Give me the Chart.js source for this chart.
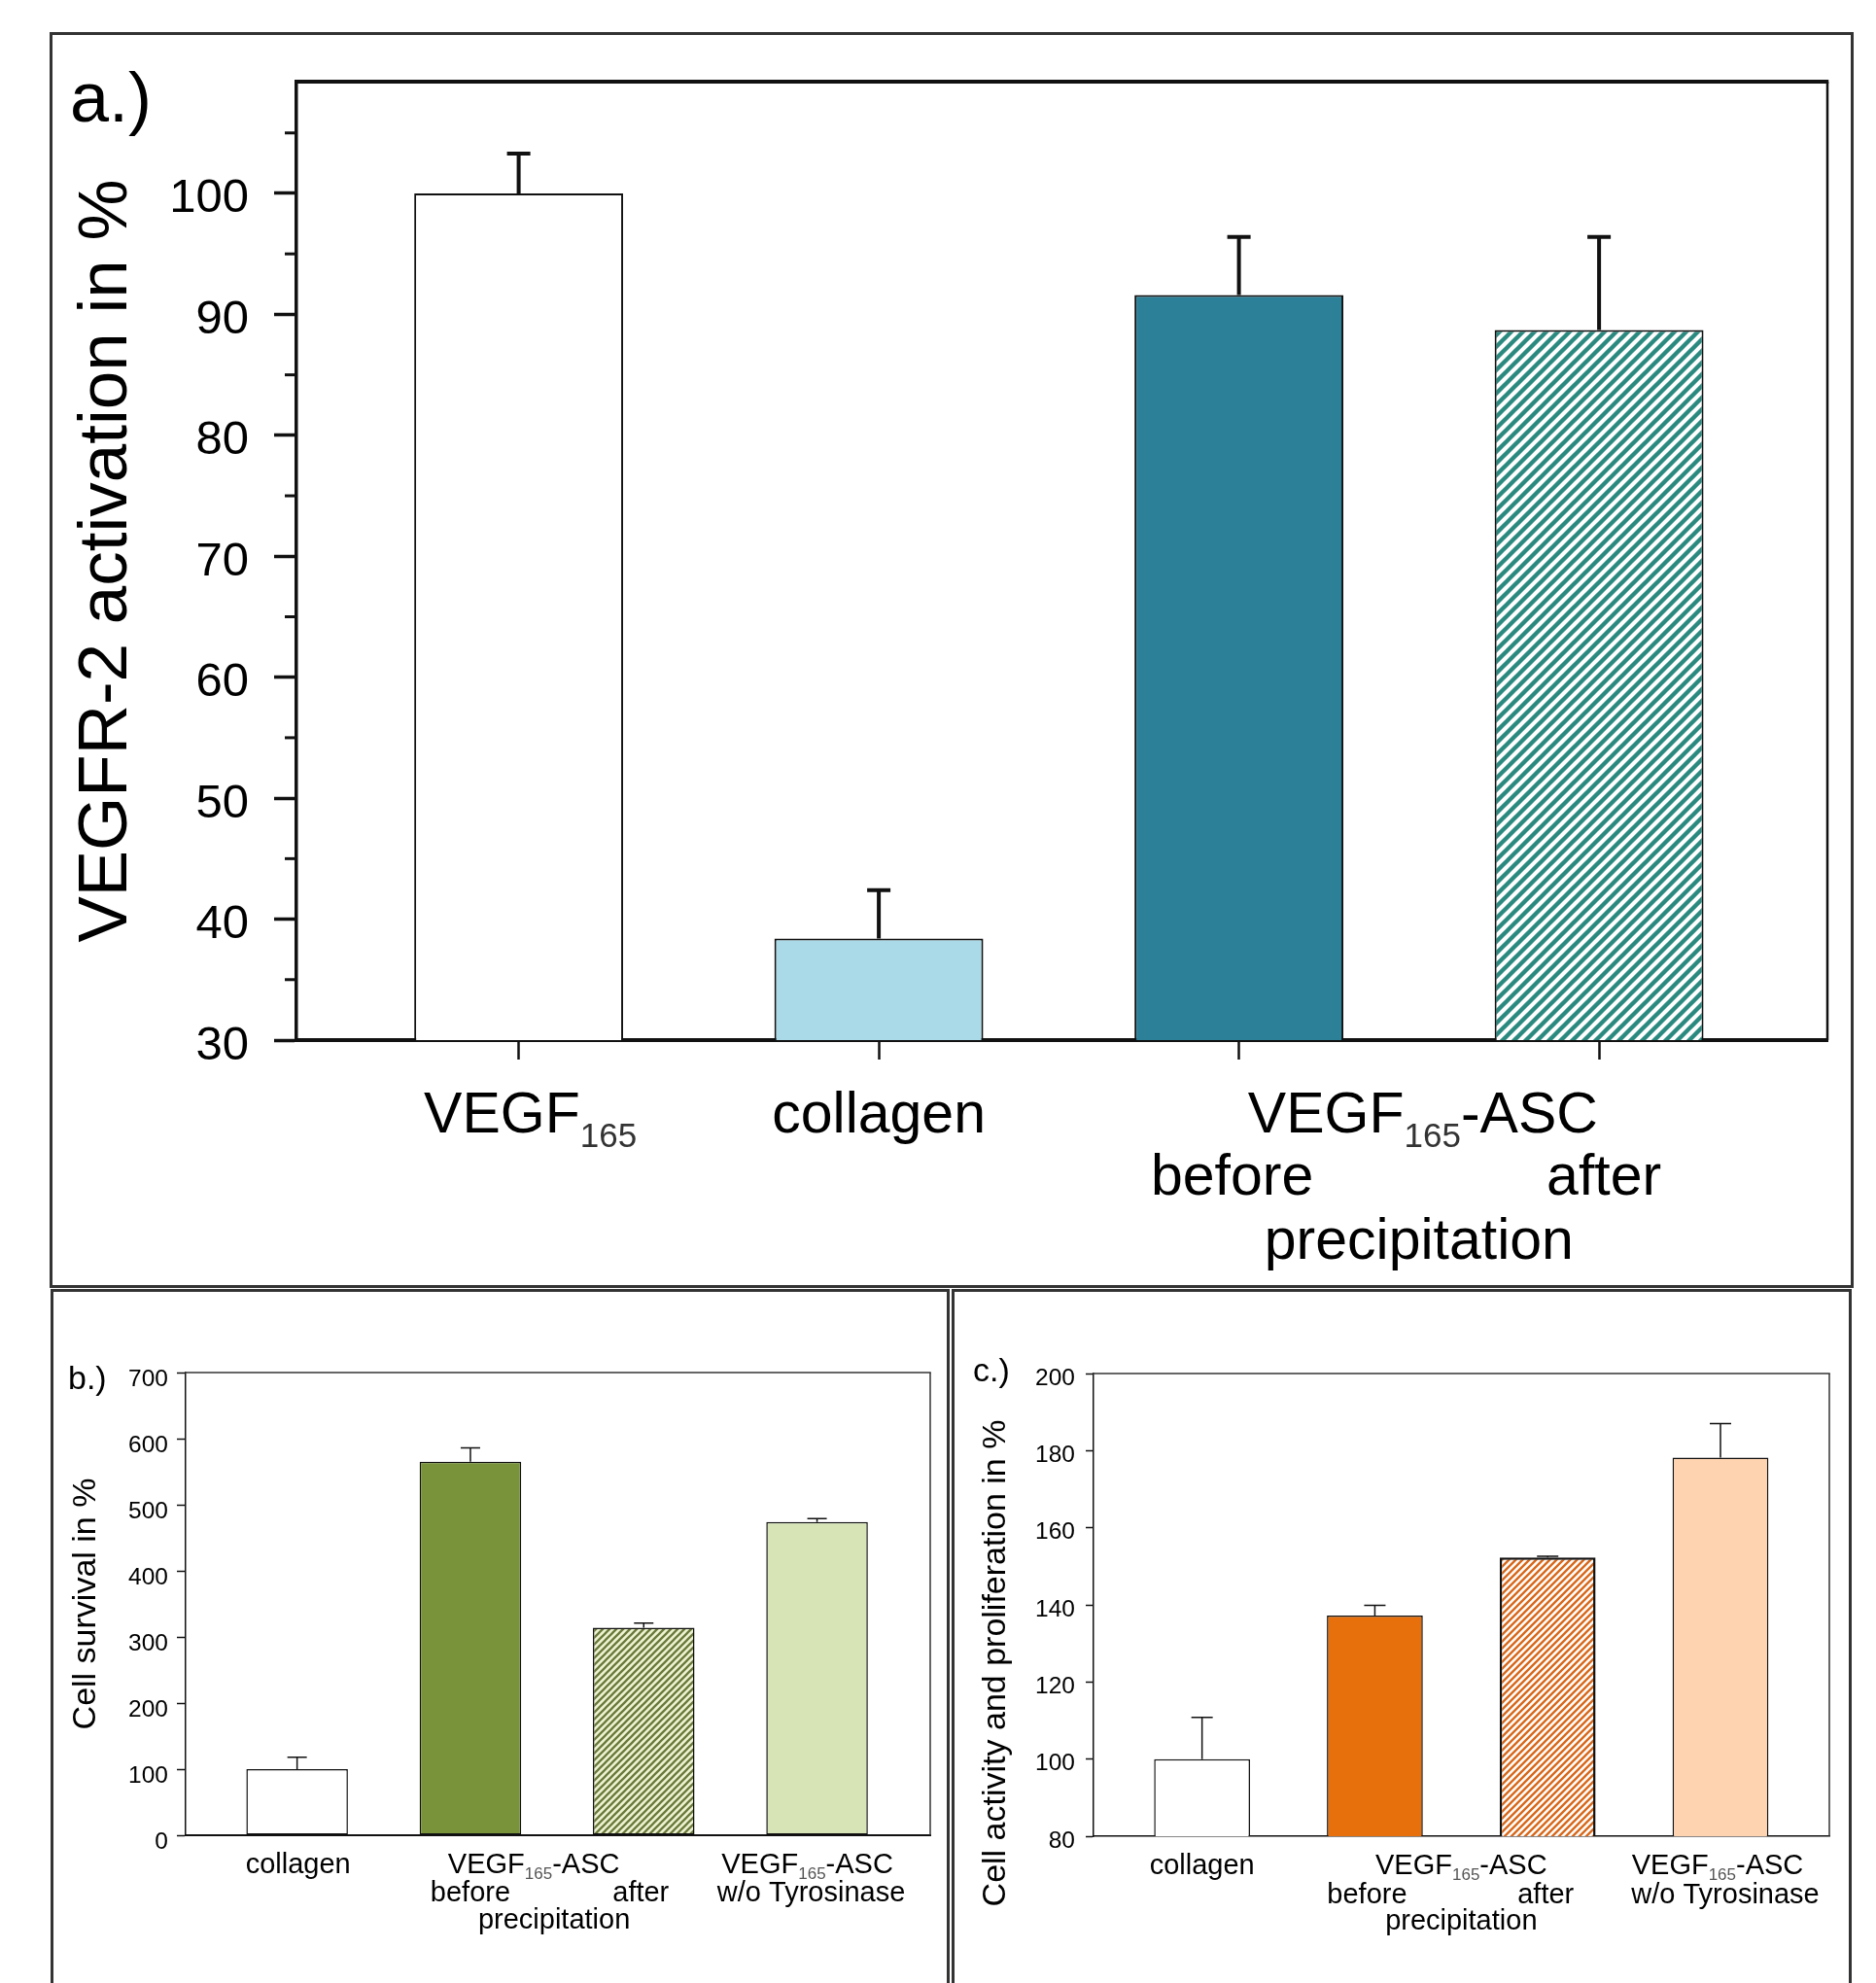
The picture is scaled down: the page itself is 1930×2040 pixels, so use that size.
<!DOCTYPE html>
<html>
<head>
<meta charset="utf-8">
<script src="https://cdn.jsdelivr.net/npm/chart.js@4.4.1/dist/chart.umd.min.js"></script>
<style>
html,body{margin:0;padding:0;background:#fff;width:1930px;height:2040px;overflow:hidden;}
.panel{position:absolute;box-sizing:border-box;border:3px solid #333;}
canvas{position:absolute;left:0;top:0;}
</style>
</head>
<body>
<div class="panel" style="left:51px;top:33px;width:1856px;height:1292px;"></div>
<div class="panel" style="left:52px;top:1326px;width:925px;height:780px;"></div>
<div class="panel" style="left:979px;top:1326px;width:926px;height:780px;"></div>
<canvas id="ca" width="1930" height="2040"></canvas>
<canvas id="cb" width="1930" height="2040"></canvas>
<canvas id="cc" width="1930" height="2040"></canvas>
<script>
// ---------------- DATA ----------------
// Panel a
const A_X = [1, 2, 3, 4];
const A_CATEGORIES = ['VEGF165', 'collagen', 'VEGF165-ASC before precipitation', 'VEGF165-ASC after precipitation'];
const A_VALUES = [100, 38.4, 91.6, 88.7];
const A_ERRORS = [3.3, 4.0, 4.8, 7.7];
const A_Y_TICKS = [30, 40, 50, 60, 70, 80, 90, 100];
const A_Y_MINOR = [35, 45, 55, 65, 75, 85, 95, 105];
const A_Y_TITLE = 'VEGFR-2 activation in %';
const A_TICK_TEXT = [
  [['VEGF', 0], ['165', 1]],
  [['collagen', 0]],
  [['VEGF', 0], ['165', 1], ['-ASC', 0]],
  [['before', 0]],
  [['after', 0]],
  [['precipitation', 0]]
];

// Panel b
const B_X = [1, 2, 3, 4];
const B_CATEGORIES = ['collagen', 'VEGF165-ASC before precipitation', 'VEGF165-ASC after precipitation', 'VEGF165-ASC w/o Tyrosinase'];
const B_VALUES = [100, 565, 314, 474];
const B_ERRORS = [18, 21, 7, 5];
const B_Y_TICKS = [0, 100, 200, 300, 400, 500, 600, 700];
const B_Y_TITLE = 'Cell survival in %';

// Panel c
const C_X = [1, 2, 3, 4];
const C_CATEGORIES = ['collagen', 'VEGF165-ASC before precipitation', 'VEGF165-ASC after precipitation', 'VEGF165-ASC w/o Tyrosinase'];
const C_VALUES = [100, 137.2, 152.3, 178.2];
const C_ERRORS = [10.8, 2.7, 0.3, 8.8];
const C_Y_TICKS = [80, 100, 120, 140, 160, 180, 200];
const C_Y_TITLE = 'Cell activity and proliferation in %';

const BC_TICK_TEXT = [
  [['collagen', 0]],
  [['VEGF', 0], ['165', 1], ['-ASC', 0]],
  [['before', 0]],
  [['after', 0]],
  [['precipitation', 0]],
  [['VEGF', 0], ['165', 1], ['-ASC', 0]],
  [['w/o Tyrosinase', 0]]
];

// ---------------- LAYOUT / STYLE ----------------
const FONT = "'Liberation Sans', Arial, Helvetica, sans-serif";
Chart.defaults.font.family = FONT;
Chart.defaults.color = '#000';

const A_LABEL_LAYOUT = [
  {at: [1], dx: 12, row: 0}, {at: [2], dx: 0, row: 0}, {at: [3, 4], dx: 4, row: 0},
  {at: [3], dx: -7, row: 1}, {at: [4], dx: 5, row: 1}, {at: [3, 4], dx: 0, row: 2}
];
const B_LABEL_LAYOUT = [
  {at: [1], dx: 1, row: 0}, {at: [2, 3], dx: -24, row: 0}, {at: [2], dx: 0, row: 1},
  {at: [3], dx: -3, row: 1}, {at: [2, 3], dx: -3, row: 2}, {at: [4], dx: -10, row: 0}, {at: [4], dx: -6, row: 1}
];
const C_LABEL_LAYOUT = [
  {at: [1], dx: 0, row: 0}, {at: [2, 3], dx: 0, row: 0}, {at: [2], dx: -8, row: 1},
  {at: [3], dx: -2, row: 1}, {at: [2, 3], dx: 0, row: 2}, {at: [4], dx: -3, row: 0}, {at: [4], dx: 5, row: 1}
];

function hatchPattern(canvasId, fg, bg, period, lw) {
  const t = document.createElement('canvas');
  t.width = period; t.height = period;
  const g = t.getContext('2d');
  g.fillStyle = bg; g.fillRect(0, 0, period, period);
  g.strokeStyle = fg; g.lineWidth = lw; g.lineCap = 'square';
  g.beginPath();
  for (const k of [-period, 0, period]) { g.moveTo(k - 3, period + 3); g.lineTo(k + period + 3, -3); }
  g.stroke();
  return document.getElementById(canvasId).getContext('2d').createPattern(t, 'repeat');
}

function drawSegments(ctx, segs, cx, baseline, st) {
  const widths = segs.map(([t, s]) => { ctx.font = s ? st.subFont : st.mainFont; return ctx.measureText(t).width; });
  const total = widths.reduce((a, b) => a + b, 0);
  let x = cx - total / 2;
  ctx.textAlign = 'left'; ctx.textBaseline = 'alphabetic';
  segs.forEach(([t, s], i) => {
    ctx.font = s ? st.subFont : st.mainFont;
    ctx.fillStyle = s ? st.subColor : '#000';
    ctx.fillText(t, x, baseline + (s ? st.subDy : 0));
    x += widths[i];
  });
}

function decorPlugin(cfg) {
  return {
    id: 'decor',
    afterDatasetsDraw(chart) {
      const {ctx, chartArea: ca, scales: {x, y}} = chart;
      ctx.save();
      // frame (top and right)
      ctx.strokeStyle = cfg.frameColor;
      ctx.lineWidth = cfg.frameTop;
      ctx.beginPath(); ctx.moveTo(ca.left - 1, ca.top); ctx.lineTo(ca.right + cfg.frameRight / 2, ca.top); ctx.stroke();
      ctx.lineWidth = cfg.frameRight;
      ctx.beginPath(); ctx.moveTo(ca.right, ca.top); ctx.lineTo(ca.right, ca.bottom); ctx.stroke();
      // minor ticks
      if (cfg.minor) {
        ctx.lineWidth = cfg.minorWidth; ctx.strokeStyle = '#111';
        cfg.minor.forEach(v => {
          const py = y.getPixelForValue(v);
          ctx.beginPath(); ctx.moveTo(ca.left - cfg.minorLen, py); ctx.lineTo(ca.left, py); ctx.stroke();
        });
      }
      // error bars
      const meta = chart.getDatasetMeta(0);
      ctx.strokeStyle = '#111'; ctx.lineWidth = cfg.errWidth; ctx.lineCap = 'butt';
      meta.data.forEach((bar, i) => {
        const top = y.getPixelForValue(cfg.values[i] + cfg.errors[i]);
        ctx.beginPath();
        ctx.moveTo(bar.x, bar.y); ctx.lineTo(bar.x, top);
        ctx.moveTo(bar.x - cfg.capHalf, top); ctx.lineTo(bar.x + cfg.capHalf, top);
        ctx.stroke();
      });
      // panel letter
      ctx.fillStyle = '#000';
      ctx.font = cfg.letterFont; ctx.textAlign = 'left'; ctx.textBaseline = 'alphabetic';
      ctx.fillText(cfg.letter, ca.left + cfg.letterDx, ca.top + cfg.letterDy);
      // category labels
      cfg.layout.forEach((L, i) => {
        const px = L.at.reduce((s, v) => s + x.getPixelForValue(v), 0) / L.at.length;
        drawSegments(ctx, cfg.texts[i], px + L.dx, ca.bottom + cfg.rows[L.row], cfg.textStyle);
      });
      // custom title
      if (cfg.customTitle) {
        ctx.save();
        ctx.translate(ca.left + cfg.customTitle.dx, (ca.top + ca.bottom) / 2 + cfg.customTitle.dy);
        ctx.rotate(-Math.PI / 2);
        ctx.font = cfg.customTitle.font; ctx.textAlign = 'center'; ctx.textBaseline = 'middle';
        ctx.fillText(cfg.customTitle.text, 0, 0);
        ctx.restore();
      }
      ctx.restore();
    }
  };
}

function makeChart(id, o) {
  return new Chart(document.getElementById(id), {
    type: 'bar',
    data: {
      datasets: [{
        data: o.xs.map((xv, i) => ({x: xv, y: o.values[i]})),
        backgroundColor: o.colors,
        borderColor: '#111',
        borderWidth: o.borderWidth,
        borderSkipped: false,
        barPercentage: o.barPct,
        categoryPercentage: 1.0
      }]
    },
    options: {
      responsive: false, animation: false, devicePixelRatio: 1,
      layout: {padding: o.padding},
      plugins: {legend: {display: false}, tooltip: {enabled: false}},
      scales: {
        x: {
          type: 'linear', min: o.xmin, max: o.xmax, offset: false,
          afterBuildTicks: s => { s.ticks = o.xs.map(v => ({value: v})); },
          afterFit: s => { s.height = o.xHeight; },
          ticks: {display: false},
          grid: {offset: false, display: true, drawOnChartArea: false, drawTicks: o.xTickLen > 0,
                 tickLength: o.xTickLen, tickWidth: o.xTickWidth, tickColor: '#111'},
          border: {display: true, width: o.xBorder, color: '#111'}
        },
        y: {
          type: 'linear', min: o.ymin, max: o.ymax,
          afterBuildTicks: s => { s.ticks = o.yticks.map(v => ({value: v})); },
          afterFit: s => { s.width = o.yWidth; },
          ticks: {font: {family: FONT, size: o.tickSize}, color: '#000', padding: o.tickPad,
                  labelOffset: o.labelOffset, autoSkip: false, maxRotation: 0},
          grid: {display: true, drawOnChartArea: false, drawTicks: true, tickLength: o.yTickLen,
                 tickWidth: o.yTickWidth, tickColor: '#111'},
          border: {display: true, width: o.yBorder, color: '#111'},
          title: o.title ? {display: true, text: o.title, color: '#000',
                  font: {family: FONT, size: o.titleSize}, padding: {top: o.titlePad, bottom: 0}} : {display: false}
        }
      }
    },
    plugins: [decorPlugin(o.decor)]
  });
}

// ---------------- Panel a ----------------
makeChart('ca', {
  xs: A_X, values: A_VALUES,
  colors: ['#ffffff', '#aadae8', '#2c8098', hatchPattern('ca', '#2b8a80', '#ffffff', 12, 4.4)],
  borderWidth: 2, barPct: 0.58,
  padding: {left: 0, top: 84, right: 50, bottom: 0},
  xmin: 0.383, xmax: 4.634, xHeight: 970, xTickLen: 20, xTickWidth: 2.5, xBorder: 4,
  ymin: 30, ymax: 109.24, yticks: A_Y_TICKS, yWidth: 305,
  tickSize: 49, tickPad: 26, labelOffset: 6, yTickLen: 23, yTickWidth: 3.5, yBorder: 3.5,
  title: A_Y_TITLE, titleSize: 71, titlePad: 68,
  decor: {
    frameColor: '#111', frameTop: 4, frameRight: 2.5,
    minor: A_Y_MINOR, minorLen: 12, minorWidth: 3,
    values: A_VALUES, errors: A_ERRORS, errWidth: 4, capHalf: 12,
    letter: 'a.)', letterFont: `72px ${FONT}`, letterDx: -233, letterDy: 41,
    layout: A_LABEL_LAYOUT, texts: A_TICK_TEXT, rows: [95, 159, 225],
    textStyle: {mainFont: `59px ${FONT}`, subFont: `35px ${FONT}`, subDy: 15, subColor: '#333'}
  }
});

// ---------------- Panel b ----------------
makeChart('cb', {
  xs: B_X, values: B_VALUES,
  colors: ['#ffffff', '#78933a', hatchPattern('cb', '#6a7a3c', '#eef3d2', 7, 2.3), '#d6e4b6'],
  borderWidth: 1.5, barPct: 0.586,
  padding: {left: 60, top: 1412, right: 973, bottom: 0},
  xmin: 0.357, xmax: 4.653, xHeight: 152, xTickLen: 0, xTickWidth: 1, xBorder: 2,
  ymin: 0, ymax: 700, yticks: B_Y_TICKS, yWidth: 131,
  tickSize: 24.5, tickPad: 9, labelOffset: 7, yTickLen: 9, yTickWidth: 1.5, yBorder: 1.5,
  title: B_Y_TITLE, titleSize: 34, titlePad: 8,
  decor: {
    frameColor: '#333', frameTop: 1.5, frameRight: 1.5,
    values: B_VALUES, errors: B_ERRORS, errWidth: 1.5, capHalf: 10,
    letter: 'b.)', letterFont: `34px ${FONT}`, letterDx: -121, letterDy: 17,
    layout: B_LABEL_LAYOUT, texts: BC_TICK_TEXT, rows: [39, 68, 96],
    textStyle: {mainFont: `29px ${FONT}`, subFont: `17px ${FONT}`, subDy: 6, subColor: '#555'}
  }
});

// ---------------- Panel c ----------------
makeChart('cc', {
  xs: C_X, values: C_VALUES,
  colors: ['#ffffff', '#e8700c', hatchPattern('cc', '#d8691c', '#ffffff', 7, 2.4), '#fdd3b0'],
  borderWidth: [1.5, 1.5, 2.5, 1.5], barPct: 0.555,
  padding: {left: 990, top: 1413, right: 48, bottom: 0},
  xmin: 0.372, xmax: 4.63, xHeight: 151, xTickLen: 0, xTickWidth: 1, xBorder: 1.5,
  ymin: 80, ymax: 200, yticks: C_Y_TICKS, yWidth: 135,
  tickSize: 24.5, tickPad: 11, labelOffset: 5, yTickLen: 8, yTickWidth: 1.5, yBorder: 1.5,
  title: null,
  decor: {
    frameColor: '#333', frameTop: 1.5, frameRight: 1.5,
    values: C_VALUES, errors: C_ERRORS, errWidth: 1.5, capHalf: 11,
    letter: 'c.)', letterFont: `34px ${FONT}`, letterDx: -124, letterDy: 8,
    layout: C_LABEL_LAYOUT, texts: BC_TICK_TEXT, rows: [39, 69, 96],
    textStyle: {mainFont: `29px ${FONT}`, subFont: `17px ${FONT}`, subDy: 6, subColor: '#555'},
    customTitle: {text: C_Y_TITLE, font: `34px ${FONT}`, dx: -100, dy: 60}
  }
});
</script>
</body>
</html>
